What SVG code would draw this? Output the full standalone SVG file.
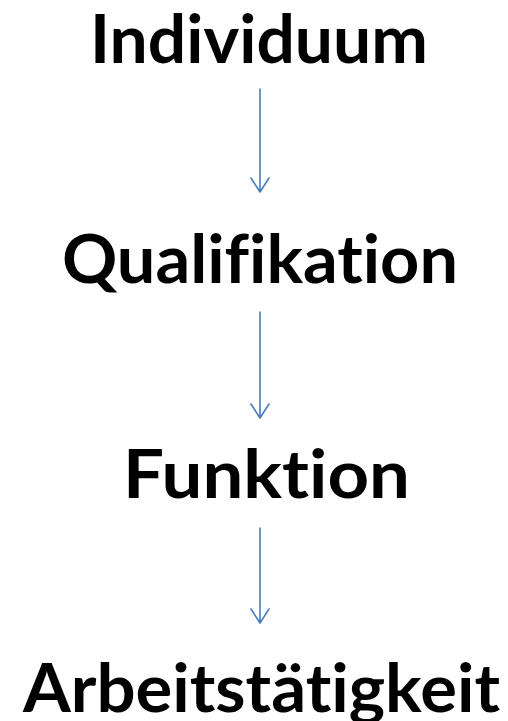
<svg xmlns="http://www.w3.org/2000/svg" width="508" height="721" viewBox="0 0 508 721">
<style>
.t{font-family:Lato,"Open Sans","Liberation Sans",sans-serif;font-weight:bold;font-size:67px;fill:#000;font-variant-ligatures:none;font-feature-settings:"liga" 0,"clig" 0}
.c{stroke:#4a7ebb;stroke-width:1.6;fill:none;stroke-linecap:round;stroke-linejoin:round}
</style>
<rect width="508" height="721" fill="#fff"/>
<g id="n1"><text class="t" x="90" y="63" textLength="338" lengthAdjust="spacingAndGlyphs">Individuum</text></g>
<g id="n2"><text class="t" x="62" y="283" textLength="396" lengthAdjust="spacingAndGlyphs">Qualifikation</text></g>
<g id="n3"><text class="t" x="123" y="498" textLength="287" lengthAdjust="spacingAndGlyphs">Funktion</text></g>
<g id="n4"><text class="t" x="23" y="712" textLength="477" lengthAdjust="spacingAndGlyphs">Arbeitstätigkeit</text></g>
<g id="connectors">
<path class="c" d="M260 89V192M251 178L260 192L269 178"/>
<path class="c" d="M260 312V418M251 404L260 418L269 404"/>
<path class="c" d="M260 528V623M251 609L260 623L269 609"/>
</g>
</svg>
